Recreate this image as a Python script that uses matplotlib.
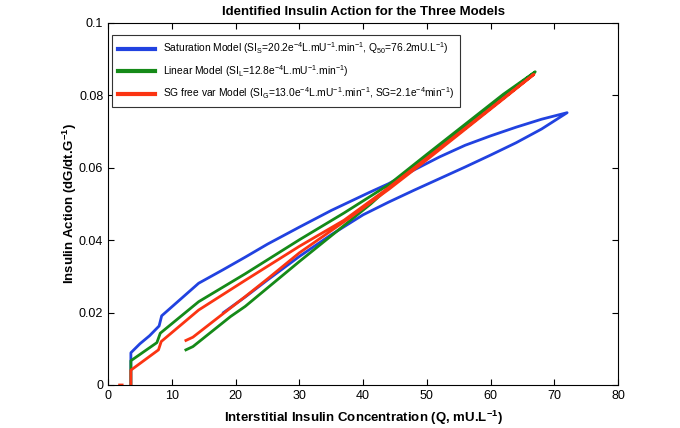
import matplotlib
matplotlib.use('Agg')
import matplotlib.pyplot as plt
import numpy as np

# Insulin action vs interstitial insulin, three models
# each model traces a loop: rising branch, then back down the lower branch

q_sat = [3.57, 3.57, 5, 6.5, 8.0, 8.4, 14.2, 18, 21.5, 25, 30, 35, 41, 44, 48, 52, 56, 60, 64, 68, 72,
         68, 64, 60, 56, 52, 48, 44, 40, 35, 30, 25, 21.5, 18.1]
a_sat = [0, 0.0089, 0.0114, 0.0136, 0.0163, 0.0191, 0.0281, 0.0318, 0.0353, 0.0389, 0.0436,
         0.0482, 0.0532, 0.0556, 0.0594, 0.0630, 0.0662, 0.0688, 0.0712, 0.0734, 0.0752,
         0.0707, 0.0669, 0.0635, 0.0602, 0.0570, 0.0538, 0.0505, 0.0470, 0.0415, 0.0355, 0.0290, 0.0243, 0.0200]

q_lin = [3.57, 3.57, 7.65, 8.18, 14.2, 21.5, 30, 37, 44, 50, 56, 62, 67,
         62, 56, 50, 44, 41.2, 35, 30, 21.5, 19.2, 13.3, 12.2]
a_lin = [0, 0.0067, 0.0117, 0.0143, 0.0230, 0.0307, 0.0401, 0.0475, 0.0553, 0.0637, 0.0720, 0.0803, 0.0865,
         0.0797, 0.0713, 0.0628, 0.0545, 0.0500, 0.0412, 0.0341, 0.0217, 0.0189, 0.0106, 0.0097]

q_sg = [1.8, 2.2, np.nan, 3.57, 3.57, 7.9, 8.33, 14.2, 21.5, 30, 37, 44, 50, 56, 62, 66.8,
        62, 56, 50, 44, 38, 30, 25, 21.5, 16.8, 13.3, 12.2]
a_sg = [0, 0, np.nan, 0, 0.0041, 0.0097, 0.0120, 0.0207, 0.0289, 0.0383, 0.0455, 0.0545, 0.0627, 0.0709,
        0.0792, 0.0858,
        0.0790, 0.0706, 0.0622, 0.0540, 0.0463, 0.0365, 0.0293, 0.0244, 0.0180, 0.0132, 0.0123]

xticks = [0, 10, 20, 30, 40, 50, 60, 70, 80]
yticks = [0, 0.02, 0.04, 0.06, 0.08, 0.1]
ytick_labels = ['0', '0.02', '0.04', '0.06', '0.08', '0.1']

lbl_sat = 'Saturation Model (SI$_S$=20.2e$^{-4}$L.mU$^{-1}$.min$^{-1}$, Q$_{50}$=76.2mU.L$^{-1}$)'
lbl_lin = 'Linear Model (SI$_L$=12.8e$^{-4}$L.mU$^{-1}$.min$^{-1}$)'
lbl_sg = 'SG free var Model (SI$_G$=13.0e$^{-4}$L.mU$^{-1}$.min$^{-1}$, SG=2.1e$^{-4}$min$^{-1}$)'

plt.rcParams['font.family'] = ['Liberation Sans', 'DejaVu Sans']
plt.rcParams['mathtext.default'] = 'regular'

fig = plt.figure(figsize=(6.8, 4.28), dpi=100)
ax = fig.add_axes([0.159, 0.1005, 0.75, 0.846])

ax.plot(q_sat, a_sat, color='#2142e0', lw=2.0, label=lbl_sat)
ax.plot(q_lin, a_lin, color='#158a18', lw=2.0, label=lbl_lin)
ax.plot(q_sg, a_sg, color='#fb3412', lw=2.0, label=lbl_sg)

ax.set_xlim(0, 80)
ax.set_ylim(0, 0.1)
ax.set_xticks(xticks)
ax.set_yticks(yticks)
ax.set_yticklabels(ytick_labels)
ax.tick_params(direction='in', top=True, right=True, labelsize=9, length=4, width=0.8)
for s in ax.spines.values():
    s.set_linewidth(0.8)

ax.set_xlabel('Interstitial Insulin Concentration (Q, mU.L$^{-1}$)', fontsize=9.5, fontweight='bold', labelpad=5)
ax.set_ylabel('Insulin Action (dG/dt.G$^{-1}$)', fontsize=9.5, fontweight='bold', labelpad=0)
ax.set_title('Identified Insulin Action for the Three Models', fontsize=9.5, fontweight='bold', pad=6)

leg = ax.legend(loc='upper left', bbox_to_anchor=(0.008, 0.967), borderaxespad=0, fontsize=7.4,
                fancybox=False, edgecolor='#333333', framealpha=1, handlelength=3.6,
                labelspacing=0.65, borderpad=0.55)
leg.get_frame().set_linewidth(0.8)
for line in leg.get_lines():
    line.set_linewidth(3)

fig.savefig('out.png', dpi=100)
